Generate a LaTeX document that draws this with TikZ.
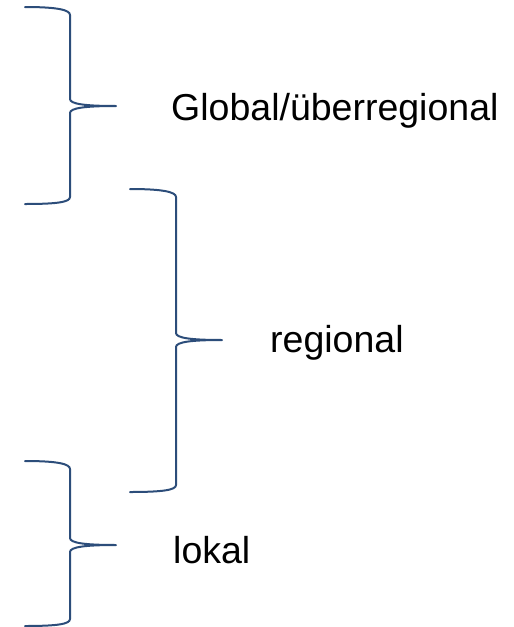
\documentclass[tikz,border=0pt]{standalone}
\usepackage{fontspec}
\setmainfont{Liberation Sans}
\definecolor{bracecol}{RGB}{44,77,122}
\begin{document}
\begin{tikzpicture}[x=1pt,y=-1pt,
  bracestyle/.style={draw=bracecol,line width=2pt,line cap=round,line join=round},
  label/.style={anchor=base west,inner sep=0pt,font=\fontsize{37.5}{41}\selectfont}]
\useasboundingbox (0,0) rectangle (514,627);

% upper brace
\draw[bracestyle] (25,7) .. controls (58,7) and (70,10) .. (70,15)
  -- (70,99) .. controls (70,104) and (85,106) .. (116,106)
  .. controls (85,106) and (70,108) .. (70,113)
  -- (70,197) .. controls (70,202) and (58,204) .. (25,204);

% middle brace
\draw[bracestyle] (130,189) .. controls (163,189) and (176,192) .. (176,197)
  -- (176,333) .. controls (176,338) and (191,340) .. (222,340)
  .. controls (191,340) and (176,342) .. (176,347)
  -- (176,485) .. controls (176,490) and (163,492) .. (130,492);

% lower brace
\draw[bracestyle] (25,461) .. controls (58,461) and (70,464) .. (70,469)
  -- (70,538) .. controls (70,543) and (85,545) .. (116,545)
  .. controls (85,545) and (70,547) .. (70,552)
  -- (70,619) .. controls (70,624) and (58,626) .. (25,626);

\node[label] (global) at (171,120) {Global/überregional};
\node[label] (regional) at (270,352) {regional};
\node[label] (lokal) at (173,563) {lokal};
\end{tikzpicture}
\end{document}
